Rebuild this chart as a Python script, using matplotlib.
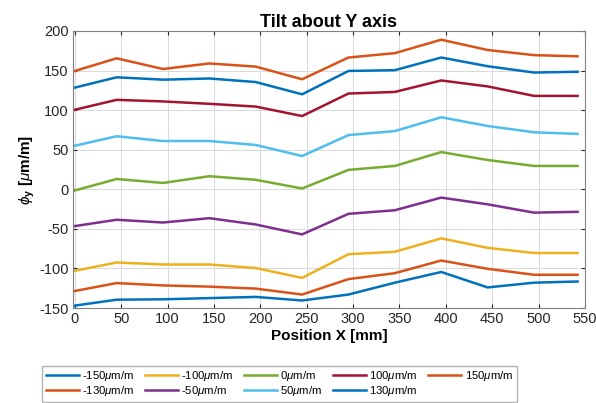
import matplotlib

matplotlib.use("Agg")
import matplotlib.pyplot as plt

plt.rcParams["font.family"] = ["Liberation Sans", "DejaVu Sans"]
plt.rcParams["mathtext.fontset"] = "custom"
plt.rcParams["mathtext.rm"] = "Liberation Sans"
plt.rcParams["mathtext.it"] = "Liberation Sans:italic"
plt.rcParams["mathtext.bf"] = "Liberation Sans:bold"
plt.rcParams["axes.unicode_minus"] = False

# positions along X [mm]
pos_x = [0, 45, 95, 145, 195, 245, 295, 345, 395, 445, 495, 542]

# tilt settings (legend labels) and measured phi_y per position
settings = [-150, -130, -100, -50, 0, 50, 100, 130, 150]
phi_m150 = [-147, -139.5, -139, -137.5, -136, -140.5, -133, -118, -104.5, -124, -118, -116.5]
phi_m130 = [-128.5, -118.5, -121.5, -123, -125.5, -133, -113.5, -106, -90, -100.5, -108, -108]
phi_m100 = [-103, -92.5, -95, -95, -99.5, -112, -82, -79, -62, -74, -80.5, -80.5]
phi_m50 = [-46.5, -38.5, -42, -36.5, -44.5, -57, -31, -26.5, -10.5, -19, -29.5, -28.5]
phi_0 = [-1.5, 13, 8, 16.5, 12, 1, 24.5, 29.5, 47, 37, 29.5, 29.5]
phi_50 = [55, 67, 61, 61, 56, 42, 68.5, 73.5, 91, 80, 72, 70]
phi_100 = [100.5, 113, 111, 108, 104.5, 92.5, 121, 123, 137.5, 130, 118, 118]
phi_130 = [128.5, 141.5, 138.5, 140, 135.5, 120, 149.5, 150.5, 166.5, 155.5, 147.5, 148.5]
phi_150 = [149.5, 165.5, 152, 159, 155, 139, 166.5, 172, 189, 176, 169.5, 168]

series = [phi_m150, phi_m130, phi_m100, phi_m50, phi_0, phi_50, phi_100, phi_130, phi_150]

# MATLAB default colour order
colors = ["#0072BD", "#D95319", "#EDB120", "#7E2F8E", "#77AC30",
          "#4DBEEE", "#A2142F", "#0072BD", "#D95319"]

fig = plt.figure(figsize=(5.96, 4.03), dpi=100)
ax = fig.add_axes([73 / 596, 1 - 308 / 403, 512 / 596, 277 / 403])

for s, vals, col in zip(settings, series, colors):
    ax.plot(pos_x, vals, color=col, linewidth=1.8, label=f"{s}$\\mu$m/m")

ax.set_xlim(-2, 550)
ax.set_ylim(-150, 200)
ax.set_xticks(range(0, 551, 50))
ax.set_yticks(range(-150, 201, 50))
ax.grid(color="#d9d9d9", linewidth=0.7)
ax.tick_params(direction="in", top=True, right=True, labelsize=10.5,
               color="#262626", labelcolor="#262626", length=3, pad=3)
for sp in ax.spines.values():
    sp.set_color("#808080")
    sp.set_linewidth(0.8)

ax.set_title("Tilt about Y axis", fontsize=13, fontweight="bold", pad=3)
ax.set_xlabel("Position X [mm]", fontsize=11, fontweight="bold", labelpad=2)
ax.set_ylabel(r"$\phi_\mathbf{y}$ [$\mu$m/m]", fontsize=11, fontweight="bold", labelpad=2)

fig.legend(loc="lower center", bbox_to_anchor=(279.5 / 596, -0.005), ncol=5,
           fontsize=8.2, frameon=True, fancybox=False, edgecolor="#a0a0a0",
           handlelength=2.9, handletextpad=0.3, columnspacing=0.9,
           labelspacing=0.1, borderpad=0.3, borderaxespad=0.3)

fig.savefig("out.png", dpi=100)
